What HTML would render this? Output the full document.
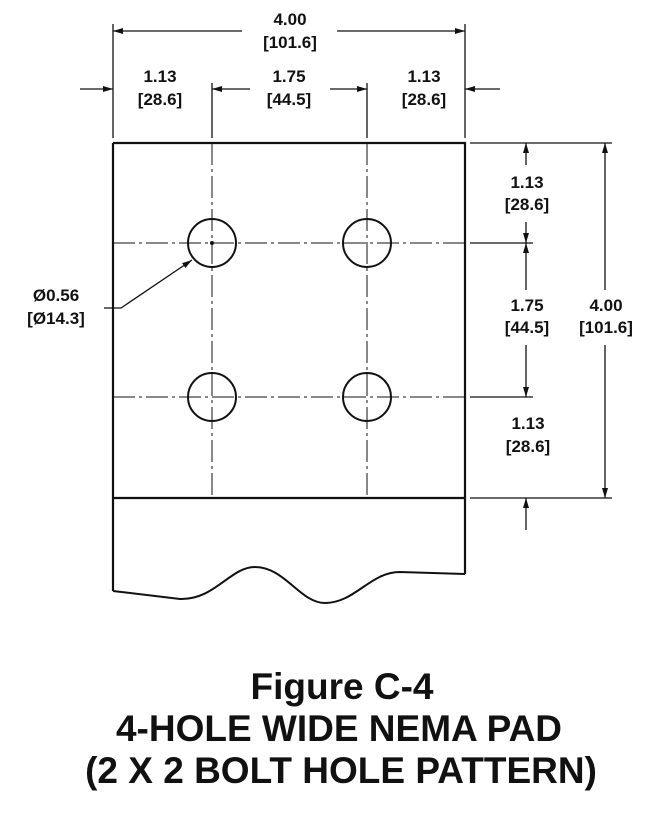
<!DOCTYPE html>
<html><head><meta charset="utf-8"><style>
html,body{margin:0;padding:0;background:#fff;}
svg{display:block;}
text{font-family:"Liberation Sans",Arial,sans-serif;font-weight:bold;fill:#111;}
</style></head><body>
<svg width="661" height="819" viewBox="0 0 661 819" xmlns="http://www.w3.org/2000/svg">
<defs>
<marker id="a" viewBox="0 0 10 6" refX="10" refY="3" markerWidth="10" markerHeight="6" orient="auto-start-reverse" markerUnits="userSpaceOnUse"><path d="M0,0 L10,3 L0,6 z" fill="#111"/></marker>
</defs>
<g stroke="#111" fill="none">
<path d="M113,143 H465 V574 M113,143 V591" stroke-width="2.2"/>
<line x1="113" y1="498" x2="465" y2="498" stroke-width="2.2"/>
<path d="M113,591 L180,599 C215,600 230,567 255,567 C285,567 300,603 325,603 C355,603 370,572 400,572 L465,574" stroke-width="2"/>
<g stroke-width="1" stroke-dasharray="22,4,3,4">
<line x1="212" y1="143" x2="212" y2="498"/>
<line x1="367" y1="143" x2="367" y2="498"/>
<line x1="113" y1="243" x2="465" y2="243"/>
<line x1="113" y1="397" x2="465" y2="397"/>
</g>
<g stroke-width="2">
<circle cx="212" cy="243" r="24"/><circle cx="367" cy="243" r="24"/>
<circle cx="212" cy="397" r="24"/><circle cx="367" cy="397" r="24"/>
</g>
<circle cx="212" cy="243" r="1.5" fill="#111"/>
<g stroke-width="1.3">
<line x1="113" y1="24" x2="113" y2="138"/>
<line x1="465" y1="24" x2="465" y2="138"/>
<line x1="212" y1="83" x2="212" y2="138"/>
<line x1="367" y1="83" x2="367" y2="138"/>
<line x1="242" y1="31" x2="113" y2="31" marker-end="url(#a)"/>
<line x1="337" y1="31" x2="465" y2="31" marker-end="url(#a)"/>
<line x1="80" y1="89" x2="113" y2="89" marker-end="url(#a)"/>
<line x1="500" y1="89" x2="465" y2="89" marker-end="url(#a)"/>
<line x1="250" y1="89" x2="212" y2="89" marker-end="url(#a)"/>
<line x1="330" y1="89" x2="367" y2="89" marker-end="url(#a)"/>
<line x1="470" y1="143" x2="612" y2="143"/>
<line x1="470" y1="243" x2="533" y2="243"/>
<line x1="470" y1="397" x2="533" y2="397"/>
<line x1="470" y1="498" x2="612" y2="498"/>
<line x1="526" y1="165" x2="526" y2="143" marker-end="url(#a)"/>
<line x1="526" y1="222" x2="526" y2="243" marker-end="url(#a)"/>
<line x1="526" y1="290" x2="526" y2="243" marker-end="url(#a)"/>
<line x1="526" y1="345" x2="526" y2="397" marker-end="url(#a)"/>
<line x1="526" y1="530" x2="526" y2="498" marker-end="url(#a)"/>
<line x1="605" y1="290" x2="605" y2="143" marker-end="url(#a)"/>
<line x1="605" y1="345" x2="605" y2="498" marker-end="url(#a)"/>
<path d="M104,308 H121 L192,260" marker-end="url(#a)"/>
</g>
</g>
<g font-size="17" text-anchor="middle">
<text x="290" y="25">4.00</text><text x="290" y="48">[101.6]</text>
<text x="160" y="82">1.13</text><text x="160" y="105">[28.6]</text>
<text x="289" y="82">1.75</text><text x="289" y="105">[44.5]</text>
<text x="424" y="82">1.13</text><text x="424" y="105">[28.6]</text>
<text x="527" y="188">1.13</text><text x="527" y="210">[28.6]</text>
<text x="527" y="311">1.75</text><text x="527" y="333">[44.5]</text>
<text x="606" y="311">4.00</text><text x="606" y="333">[101.6]</text>
<text x="528" y="429">1.13</text><text x="528" y="452">[28.6]</text>
<text x="56" y="301">Ø0.56</text><text x="56" y="324">[Ø14.3]</text>
</g>
<g font-size="37" text-anchor="middle">
<text x="342" y="699">Figure C-4</text>
<text x="339" y="741">4-HOLE WIDE NEMA PAD</text>
<text x="341" y="783">(2 X 2  BOLT HOLE PATTERN)</text>
</g>
</svg>
</body></html>
